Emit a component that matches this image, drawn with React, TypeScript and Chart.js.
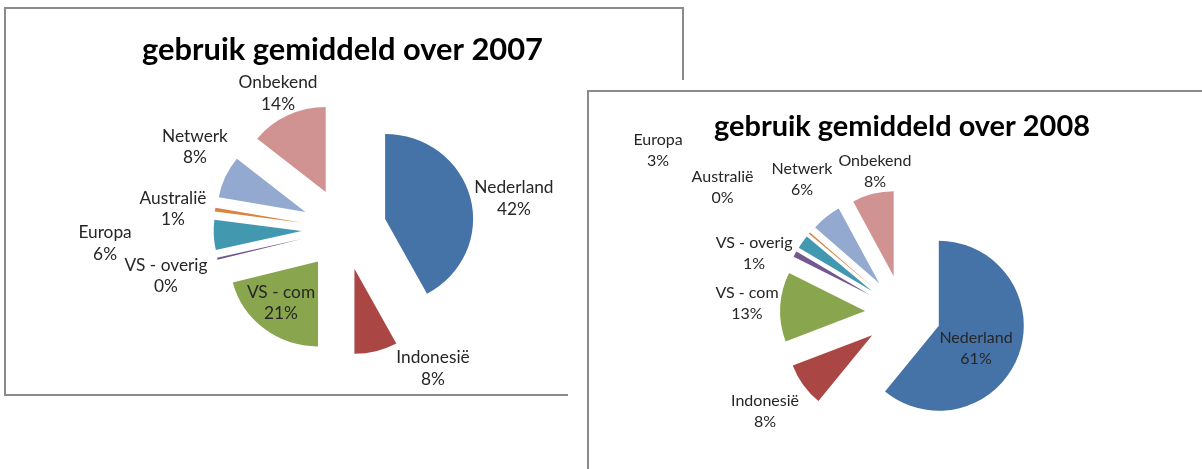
import React, { useEffect, useRef } from "react";
import { Chart, registerables } from "chart.js";

Chart.register(...registerables);

// ---------- data ----------
const categories = [
  "Nederland",
  "Indonesië",
  "VS - com",
  "VS - overig",
  "Europa",
  "Australië",
  "Netwerk",
  "Onbekend",
];
const values2007 = [42.1, 7.9, 21.0, 0.4, 5.7, 0.7, 8.0, 14.2];
const values2008 = [60.9, 8.3, 13.2, 1.1, 2.6, 0.3, 5.7, 7.9];
const title2007 = "gebruik gemiddeld over 2007";
const title2008 = "gebruik gemiddeld over 2008";

// ---------- styles ----------
const sliceColors = [
  "#4572A7",
  "#AA4643",
  "#89A54E",
  "#71588F",
  "#4198AF",
  "#DB843D",
  "#93A9CF",
  "#D19392",
];
const FONT = "Lato, 'Open Sans', sans-serif";

// label placement: [angle shift from slice bisector (deg), distance from pie centre (px)]
const labelLayout2007 = [
  [4.0, 172.7],
  [-18.3, 165.5],
  [2.6, 97.2],
  [-1.1, 184.1],
  [-0.8, 239.4],
  [-2.1, 172.2],
  [4.3, 170.1],
  [-0.4, 150.7],
];
const labelLayout2008 = [
  [6.3, 81.2],
  [0.3, 169.5],
  [0.6, 156.3],
  [-6.8, 160.4],
  [-1.7, 294],
  [-5.6, 220],
  [1.7, 167.8],
  [3.0, 144.2],
];

function fitSize(ctx: CanvasRenderingContext2D, text: string, weight: string, target: number) {
  ctx.font = `${weight} 100px ${FONT}`;
  const w = ctx.measureText(text).width;
  return (100 * target) / w;
}

const explodeLabelsPlugin = {
  id: "explodeLabels",
  afterDatasetUpdate(chart: any, args: any, opts: any) {
    const meta = chart.getDatasetMeta(args.index);
    const d = opts.explode || 0;
    meta.data.forEach((arc: any) => {
      const mid = (arc.startAngle + arc.endAngle) / 2;
      arc.x += Math.cos(mid) * d;
      arc.y += Math.sin(mid) * d;
    });
  },
  beforeDatasetsDraw(chart: any, _args: any, opts: any) {
    const ctx: CanvasRenderingContext2D = chart.ctx;
    const ca = chart.chartArea;
    const cx = (ca.left + ca.right) / 2;
    const sx = opts.sx || 1;
    ctx.save();
    ctx.translate(cx, 0);
    ctx.scale(sx, 1);
    ctx.translate(-cx, 0);
  },
  afterDatasetsDraw(chart: any) {
    chart.ctx.restore();
  },
  afterDraw(chart: any, _args: any, opts: any) {
    const ctx: CanvasRenderingContext2D = chart.ctx;
    const ca = chart.chartArea;
    const cx = (ca.left + ca.right) / 2;
    const cy = (ca.top + ca.bottom) / 2;
    const ds = chart.data.datasets[0];
    const vals: number[] = ds.data;
    const total = vals.reduce((a: number, b: number) => a + b, 0);
    const labels: string[] = chart.data.labels;
    const meta = chart.getDatasetMeta(0);

    ctx.save();
    // title
    const ts = fitSize(ctx, opts.title, "bold", opts.titleWidth);
    ctx.font = `bold ${ts}px ${FONT}`;
    ctx.fillStyle = "#000";
    ctx.textAlign = "center";
    ctx.textBaseline = "alphabetic";
    ctx.fillText(opts.title, opts.titleX, opts.titleY);

    // data labels
    const ls = fitSize(ctx, "Onbekend", "normal", opts.refWidth);
    ctx.font = `normal ${ls}px ${FONT}`;
    ctx.fillStyle = "#262626";
    ctx.textBaseline = "middle";
    const lh = opts.lineHeight;
    meta.data.forEach((arc: any, i: number) => {
      const mid = (arc.startAngle + arc.endAngle) / 2;
      const [shift, dist] = opts.layout[i];
      const a = mid + (shift * Math.PI) / 180;
      const x = cx + Math.cos(a) * dist;
      const y = cy + Math.sin(a) * dist;
      const pct = Math.round((vals[i] / total) * 100) + "%";
      ctx.fillText(labels[i], x, y - lh / 2);
      ctx.fillText(pct, x, y + lh / 2);
    });
    ctx.restore();
  },
};

type PieProps = {
  values: number[];
  width: number;
  height: number;
  padding: { left: number; top: number; right: number; bottom: number };
  pluginOpts: any;
};

function ExplodedPie({ values, width, height, padding, pluginOpts }: PieProps) {
  const ref = useRef<HTMLCanvasElement | null>(null);
  useEffect(() => {
    if (!ref.current) return;
    const chart = new Chart(ref.current, {
      type: "pie",
      data: {
        labels: categories,
        datasets: [
          {
            data: values,
            backgroundColor: sliceColors,
            borderWidth: 0,
          },
        ],
      },
      options: {
        responsive: false,
        animation: false,
        events: [],
        radius: 85,
        layout: { padding },
        plugins: {
          legend: { display: false },
          tooltip: { enabled: false },
          title: { display: false },
          explodeLabels: pluginOpts,
        } as any,
      } as any,
      plugins: [explodeLabelsPlugin],
    });
    return () => chart.destroy();
  }, []);
  return (
    <canvas
      ref={ref}
      width={width}
      height={height}
      style={{ display: "block", width, height }}
    />
  );
}

export default function App() {
  return (
    <div
      style={{
        position: "absolute",
        left: 0,
        top: 0,
        width: 1202,
        height: 469,
        overflow: "hidden",
        background: "#fff",
      }}
    >
      {/* chart 2007 */}
      <div
        style={{
          position: "absolute",
          left: 4,
          top: 7,
          width: 676,
          height: 385,
          border: "2px solid #8a8a8a",
        }}
      >
        <ExplodedPie
          values={values2007}
          width={676}
          height={385}
          padding={{ left: 0, top: 55, right: 0, bottom: 0 }}
          pluginOpts={{
            explode: 41,
            sx: 1.035,
            title: title2007,
            titleWidth: 401,
            titleX: 336.5,
            titleY: 51,
            refWidth: 79,
            lineHeight: 21.5,
            layout: labelLayout2007,
          }}
        />
      </div>

      {/* white cover behind chart 2008 */}
      <div
        style={{
          position: "absolute",
          left: 568,
          top: 80,
          width: 634,
          height: 389,
          background: "#fff",
        }}
      />
      {/* chart 2008 */}
      <div
        style={{
          position: "absolute",
          left: 587,
          top: 90,
          width: 700,
          height: 420,
          border: "2px solid #8a8a8a",
          background: "#fff",
        }}
      >
        <ExplodedPie
          values={values2008}
          width={613}
          height={377}
          padding={{ left: 15, top: 65, right: 0, bottom: 0 }}
          pluginOpts={{
            explode: 38,
            sx: 1,
            title: title2008,
            titleWidth: 376,
            titleX: 313,
            titleY: 44,
            refWidth: 73,
            lineHeight: 21,
            layout: labelLayout2008,
          }}
        />
      </div>
    </div>
  );
}
